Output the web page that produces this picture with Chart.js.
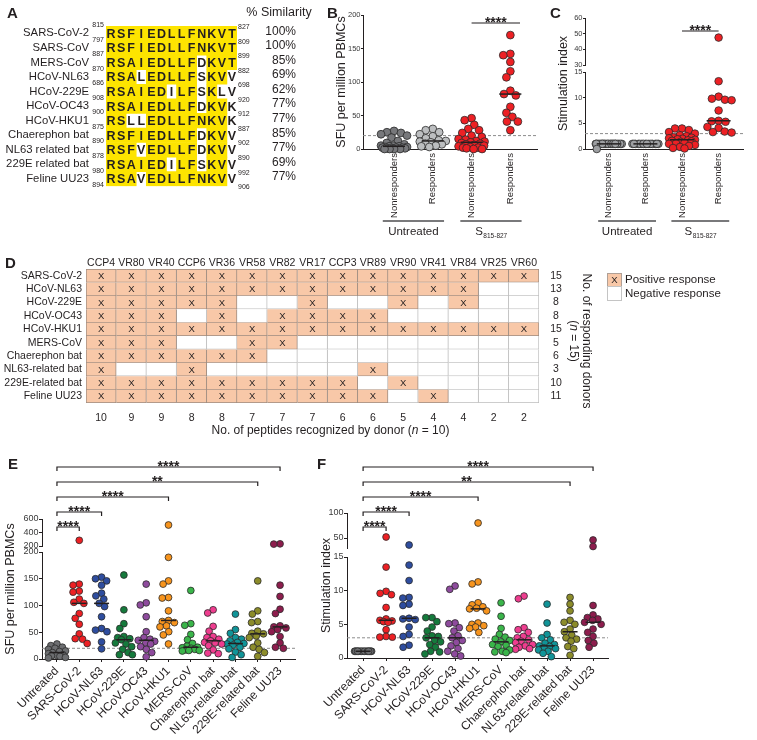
<!DOCTYPE html>
<html>
<head>
<meta charset="utf-8">
<script src="https://cdn.jsdelivr.net/npm/chart.js@4.4.1/dist/chart.umd.min.js"></script>
<style>
  html, body { margin: 0; padding: 0; background: #fff; }
  body { position: relative; width: 757px; height: 740px; overflow: hidden; }
  canvas { position: absolute; }
  .tag { position: absolute; font: bold 15px "Liberation Sans", Arial, sans-serif; color: #231f20; line-height: 1; }
</style>
</head>
<body>
<canvas id="chartA" width="330" height="210" style="left:0;top:0"></canvas>
<canvas id="chartB" width="250" height="245" style="left:300px;top:0"></canvas>
<canvas id="chartC" width="212" height="245" style="left:545px;top:0"></canvas>
<canvas id="chartD" width="757" height="195" style="left:0;top:250px"></canvas>
<canvas id="chartE" width="310" height="285" style="left:0;top:455px"></canvas>
<canvas id="chartF" width="310" height="285" style="left:310px;top:455px"></canvas>
<div class="tag" style="left:7px;top:5px">A</div>
<div class="tag" style="left:327px;top:5px">B</div>
<div class="tag" style="left:550px;top:5px">C</div>
<div class="tag" style="left:5px;top:255px">D</div>
<div class="tag" style="left:8px;top:456px">E</div>
<div class="tag" style="left:317px;top:456px">F</div>
<script>
const FONT = '"Liberation Sans", Arial, sans-serif'
const INK = '#231f20'
Chart.defaults.font.family = FONT
Chart.defaults.color = INK

// --- A: alignment ---
const aNames = ['SARS-CoV-2', 'SARS-CoV', 'MERS-CoV', 'HCoV-NL63', 'HCoV-229E', 'HCoV-OC43', 'HCoV-HKU1', 'Chaerephon bat', 'NL63 related bat', '229E related bat', 'Feline UU23']
const aSeqs = ['RSFIEDLLFNKVT', 'RSFIEDLLFNKVT', 'RSAIEDLLFDKVT', 'RSALEDLLFSKVV', 'RSAIEDILFSKLV', 'RSAIEDLLFDKVK', 'RSLLEDLLFNKVK', 'RSFIEDLLFDKVV', 'RSFVEDLLFDKVV', 'RSAIEDILFSKVV', 'RSAVEDLLFNKVV']
const aShaded = ['+++++++++++++', '+++++++++++++', '+++++++++-+++', '+++-+++++-++-', '++++++-++-+--', '+++++++++-++-', '++--++++++++-', '+++++++++-++-', '+++-+++++-++-', '++++++-++-++-', '+++-++++++++-']
const aStart = [815, 797, 887, 870, 686, 908, 900, 875, 890, 878, 980, 894]
const aEnd = [827, 809, 899, 882, 698, 920, 912, 887, 902, 890, 992, 906]
const aSimilarity = [100, 100, 85, 69, 62, 77, 77, 85, 77, 69, 77]

// --- B / C ---
const bcLabels = ['Nonresponders', 'Responders', 'Nonresponders', 'Responders']
const bTicks = [0, 50, 100, 150, 200]
const bUntreatedNon = [27, 25, 24, 22, 20, 17, 12, 9, 7, 5, 5, 4, 4, 3, 3, 2, 2, 2, 1, 1, 1, 0, 0, 0, 0]
const bUntreatedResp = [30, 28, 25, 22, 19, 16, 13, 12, 11, 10, 8, 7, 5, 4, 3]
const bS815Non = [46, 43, 36, 30, 28, 24, 20, 18, 15, 14, 12, 11, 10, 9, 8, 7, 6, 5, 4, 3, 2, 2, 1, 0, 0]
const bS815Resp = [170, 142, 140, 130, 116, 107, 87, 82, 80, 63, 54, 48, 41, 41, 28]
const cLowTicks = [0, 5, 10, 15]
const cTopTicks = [30, 40, 50, 60]
const cUntreatedNon = [0, 1, 1, 1, 1, 1, 1, 1, 1, 1, 1, 1, 1, 1, 1, 1, 1, 1, 1, 1, 1, 1, 1, 1, 1]
const cUntreatedResp = [1, 1, 1, 1, 1, 1, 1, 1, 1, 1, 1, 1, 1, 1, 1]
const cS815Non = [4.0, 4.0, 3.7, 3.3, 3.0, 2.7, 2.5, 2.3, 2.2, 2.1, 2.0, 1.9, 1.8, 1.7, 1.6, 1.5, 1.4, 1.2, 1.1, 1.0, 0.8, 0.6, 0.4, 0.2, 0.1]
const cS815Resp = [47.5, 13.2, 10.2, 9.8, 9.6, 9.5, 7.5, 5.5, 5.4, 5.3, 4.3, 4.1, 3.4, 3.3, 3.2]

// --- D ---
const dDonors = ['CCP4', 'VR80', 'VR40', 'CCP6', 'VR36', 'VR58', 'VR82', 'VR17', 'CCP3', 'VR89', 'VR90', 'VR41', 'VR84', 'VR25', 'VR60']
const dRows = ['SARS-CoV-2', 'HCoV-NL63', 'HCoV-229E', 'HCoV-OC43', 'HCoV-HKU1', 'MERS-CoV', 'Chaerephon bat', 'NL63-related bat', '229E-related bat', 'Feline UU23']
const dHits = [
  'xxxxxxxxxxxxxxx',
  'xxxxxxxxxxxxx..',
  'xxxxx..x..x.x..',
  'xxx.x.xxxx.....',
  'xxxxxxxxxxxxxxx',
  'xxx..xx........',
  'xxxxxx.........',
  'x..x.....x.....',
  'xxxxxxxxx.x....',
  'xxxxxxxxxx.x...'
]

// --- E / F ---
const efLabels = ['Untreated', 'SARS-CoV-2', 'HCoV-NL63', 'HCoV-229E', 'HCoV-OC43', 'HCoV-HKU1', 'MERS-CoV', 'Chaerephon bat', 'NL63-related bat', '229E-related bat', 'Feline UU23']
const efColors = ['#6d6e71', '#ed2024', '#2e4d9f', '#157a3c', '#8e4b9d', '#f7941d', '#3ab54a', '#ee3d8f', '#109498', '#8c8c2a', '#8d1d4d']
const eLowTicks = [0, 50, 100, 150, 200]
const eTopTicks = [200, 400, 600]
const sfuUntreated = [28, 25, 22, 20, 18, 15, 14, 12, 10, 8, 7, 6, 5, 3, 2]
const sfuSars2 = [284, 140, 138, 127, 125, 112, 106, 104, 85, 76, 65, 47, 38, 37, 29]
const sfuNl63 = [153, 150, 146, 138, 123, 118, 112, 104, 98, 79, 57, 54, 51, 32, 19]
const sfu229e = [157, 92, 66, 57, 42, 40, 38, 36, 30, 28, 23, 18, 12, 8, 8]
const sfuOc43 = [140, 105, 101, 79, 51, 40, 37, 35, 33, 30, 28, 23, 18, 12, 4]
const sfuHku1 = [511, 190, 146, 140, 115, 114, 90, 72, 70, 68, 62, 60, 51, 45, 28]
const sfuMers = [128, 66, 63, 46, 36, 29, 24, 22, 21, 20, 18, 17, 16, 16, 15]
const sfuChaerephon = [92, 86, 61, 52, 42, 40, 37, 34, 31, 30, 28, 25, 17, 11, 10]
const sfuNl63Bat = [84, 55, 48, 40, 37, 34, 31, 29, 28, 26, 22, 19, 13, 8, 3]
const sfu229eBat = [146, 90, 84, 70, 68, 52, 48, 47, 43, 40, 30, 22, 18, 12, 5]
const sfuFeline = [232, 228, 138, 117, 93, 85, 62, 60, 58, 55, 51, 42, 30, 22, 20]
const fLowTicks = [0, 5, 10, 15]
const fTopTicks = [50, 100]
const siUntreated = [1, 1, 1, 1, 1, 1, 1, 1, 1, 1, 1, 1, 1, 1, 1]
const siSars2 = [52, 13.5, 9.9, 9.6, 9.4, 7.5, 5.8, 5.6, 5.5, 5.4, 5.3, 4.2, 3.2, 3.1, 3.1]
const siNl63 = [36, 13.8, 11.5, 9.0, 8.9, 8.0, 7.8, 5.9, 5.8, 5.7, 4.6, 3.5, 3.2, 1.9, 1.6]
const si229e = [6.0, 6.0, 5.4, 4.6, 4.0, 3.3, 3.2, 3.0, 2.6, 2.4, 2.0, 1.6, 1.0, 0.9, 0.6]
const siOc43 = [10.7, 10.2, 5.2, 5.1, 4.5, 4.0, 3.3, 3.0, 2.6, 2.3, 1.8, 1.4, 1.0, 0.6, 0.3]
const siHku1 = [80, 11.3, 11.0, 8.2, 7.9, 7.6, 7.4, 7.3, 7.0, 5.2, 5.0, 4.8, 4.6, 4.4, 3.8]
const siMers = [8.2, 6.2, 4.4, 3.5, 3.1, 2.8, 2.6, 2.4, 2.0, 1.9, 1.7, 1.2, 1.0, 0.9, 0.8]
const siChaerephon = [9.2, 8.8, 4.5, 4.2, 3.8, 3.2, 3.0, 2.7, 2.5, 2.3, 2.0, 1.8, 1.6, 1.4, 1.3]
const siNl63Bat = [8.0, 5.2, 3.5, 3.0, 2.7, 2.2, 2.0, 1.8, 1.7, 1.5, 1.4, 1.2, 1.0, 0.7, 0.2]
const si229eBat = [9.0, 8.0, 7.0, 5.6, 5.3, 5.0, 4.3, 3.9, 3.4, 3.0, 2.8, 2.5, 1.7, 1.4, 0.4]
const siFeline = [46, 33, 7.8, 6.4, 6.0, 5.8, 5.6, 5.3, 5.0, 4.3, 3.8, 3.2, 2.6, 2.2, 1.6]

const base = { responsive: false, animation: false, events: [], devicePixelRatio: 1 }
const noPlugins = { legend: { display: false }, tooltip: { enabled: false } }

const median = (vals) => {
  const s = [...vals].sort((a, b) => a - b)
  const m = Math.floor(s.length / 2)
  return s.length % 2 ? s[m] : (s[m - 1] + s[m]) / 2
}

const mixedText = (ctx, parts, x, y, size) => {
  const fonts = parts.map(p => `${p.i ? 'italic ' : ''}${size}px ${FONT}`)
  const widths = parts.map((p, k) => { ctx.font = fonts[k]; return ctx.measureText(p.t).width })
  let cx = x - widths.reduce((a, b) => a + b, 0) / 2
  ctx.textAlign = 'left'
  parts.forEach((p, k) => { ctx.font = fonts[k]; ctx.fillText(p.t, cx, y); cx += widths[k] })
}

// panel A
new Chart(document.getElementById('chartA'), {
  type: 'bar',
  data: {
    labels: aNames,
    datasets: [...aSeqs[0]].map((_, c) => ({
      data: aShaded.map(m => (m[c] === '+' ? [c - 0.5, c + 0.5] : null)),
      backgroundColor: '#fde400',
      borderWidth: 0,
      barPercentage: 1,
      categoryPercentage: 1,
      grouped: false
    }))
  },
  options: {
    ...base,
    indexAxis: 'y',
    layout: { padding: { top: 26, bottom: 13, right: 93, left: 0 } },
    plugins: noPlugins,
    scales: {
      x: { type: 'linear', min: -0.5, max: 12.5, display: false },
      y: {
        grid: { display: false, drawTicks: false },
        border: { display: false },
        ticks: { font: { size: 11.3 }, color: INK, padding: 17, autoSkip: false },
        afterFit: s => { s.width = 106 }
      }
    }
  },
  plugins: [{
    id: 'alignText',
    afterDatasetsDraw(chart) {
      const { ctx, chartArea, scales: { x, y } } = chart
      ctx.save()
      ctx.fillStyle = INK
      ctx.font = `bold 12.5px ${FONT}`
      ctx.textAlign = 'center'
      ctx.textBaseline = 'middle'
      aSeqs.forEach((s, r) => [...s].forEach((ch, c) => ctx.fillText(ch, x.getPixelForValue(c), y.getPixelForValue(r) + 1)))
      ctx.font = `7px ${FONT}`
      ctx.textAlign = 'right'
      aStart.forEach((n, i) => ctx.fillText(String(n), chartArea.left - 2, y.getPixelForValue(i - 0.5) - 1))
      ctx.textAlign = 'left'
      aEnd.forEach((n, i) => ctx.fillText(String(n), chartArea.right + 1, y.getPixelForValue(i - 0.5) + 1))
      ctx.font = `12px ${FONT}`
      ctx.textAlign = 'right'
      aSimilarity.forEach((p, r) => ctx.fillText(p + '%', 296, y.getPixelForValue(r) - 2))
      ctx.textAlign = 'center'
      ctx.font = `12.5px ${FONT}`
      ctx.fillText('% Similarity', 279, 13)
      ctx.restore()
    }
  }]
})

// beeswarm placement, done in pixels on the chart's own scales
const placeSwarm = (chart, sets, r, maxHalf) => {
  const xs = chart.scales.x
  const unit = xs.getPixelForValue(1) - xs.getPixelForValue(0)
  const gap = r * 1.85
  sets.forEach(({ ds, cat, values, axis }) => {
    const ys = chart.scales[axis]
    const placed = []
    ;[...values].sort((a, b) => b - a).forEach(v => {
      const py = ys.getPixelForValue(v)
      const near = placed.filter(p => Math.abs(p.y - py) < gap)
      const blocked = near.map(p => {
        const w = Math.sqrt(gap * gap - (p.y - py) ** 2)
        return [p.x - w, p.x + w]
      })
      const hit = c => blocked.some(([a, b]) => c > a + 0.01 && c < b - 0.01)
      const free = [0, ...blocked.flat()].filter(c => !hit(c)).sort((a, b) => Math.abs(a) - Math.abs(b))
      let px = free[0]
      if (px === undefined || Math.abs(px) > maxHalf) {
        let best = 0
        let score = -1
        for (let c = -maxHalf; c <= maxHalf; c += 0.5) {
          const d = Math.min(...near.map(p => Math.hypot(p.x - c, p.y - py)))
          if (d > score) { score = d; best = c }
        }
        px = best
      }
      placed.push({ x: px, y: py })
      ds.data.push({ x: cat + px / unit, y: v })
    })
  })
}

const swarmChart = (id, o) => {
  const broken = Boolean(o.top)
  const medians = {
    data: o.groups.map(g => ({ x: g.cat, y: median(g.values) })),
    yAxisID: 'y',
    pointStyle: 'line',
    pointRadius: o.medHalf,
    pointBorderColor: INK,
    pointBorderWidth: 1.5
  }
  const pointSets = []
  const sets = []
  o.groups.forEach(g => {
    ;(broken ? ['y', 'yTop'] : ['y']).forEach(axis => {
      const values = g.values.filter(v => (axis === 'y' ? !broken || v <= o.low.max : v > o.low.max))
      if (!values.length) return
      const ds = { data: [], yAxisID: axis, pointRadius: o.radius, pointBackgroundColor: g.color, pointBorderColor: '#2b2b2b', pointBorderWidth: 0.8 }
      sets.push(ds)
      pointSets.push({ ds, cat: g.cat, values, axis })
    })
  })
  const threshold = {
    data: [{ x: o.xMin, y: o.threshold }, { x: o.xMax, y: o.threshold }],
    yAxisID: 'y', showLine: true, borderColor: '#8c8c8c', borderWidth: 1, borderDash: [3, 2], pointRadius: 0
  }
  const yAxis = (range, extra) => ({
    type: 'linear',
    position: 'left',
    min: range.min,
    max: range.max,
    grid: { display: true, drawOnChartArea: false, drawTicks: true, tickLength: o.yTick, color: INK },
    border: { display: true, color: INK, width: 1 },
    ticks: { font: { size: o.yFont }, color: '#3a3a3a', padding: 0.5, autoSkip: false },
    afterBuildTicks: s => { s.ticks = range.ticks.map(v => ({ value: v })) },
    afterFit: s => { s.width = o.yWidth },
    ...extra
  })
  const scales = {
    x: {
      type: 'linear', min: o.xMin, max: o.xMax,
      afterBuildTicks: s => { s.ticks = o.labels.map((_, i) => ({ value: i })) },
      grid: { display: true, drawOnChartArea: false, drawTicks: o.xTicks, tickLength: 3, color: INK },
      border: { color: INK, width: 1 },
      ticks: { autoSkip: false, maxRotation: o.rot, minRotation: o.rot, font: { size: o.xFont }, color: INK, padding: o.xPad, callback: v => o.labels[v] },
      afterFit: s => { s.height = o.xHeight }
    },
    y: yAxis(o.low, broken ? { stack: 'v', stackWeight: o.low.weight } : {})
  }
  if (broken) {
    scales.yGap = {
      type: 'linear', position: 'left', stack: 'v', stackWeight: o.gap, min: 0, max: 1,
      grid: { display: false }, border: { display: false }, ticks: { display: false },
      afterFit: s => { s.width = o.yWidth }
    }
    scales.yTop = yAxis(o.top, { stack: 'v', stackWeight: o.top.weight })
  }
  const extras = {
    id: 'extras',
    afterDraw(chart) {
      const { ctx, chartArea, scales: { x } } = chart
      ctx.save()
      ctx.fillStyle = INK
      ctx.strokeStyle = INK
      ctx.save()
      ctx.font = `${o.titleFont}px ${FONT}`
      ctx.textAlign = 'center'
      ctx.textBaseline = 'middle'
      ctx.translate(o.titleX, (chartArea.top + chartArea.bottom) / 2)
      ctx.rotate(-Math.PI / 2)
      ctx.fillText(o.title, 0, 0)
      ctx.restore()
      ctx.lineWidth = 1.2
      o.brackets.forEach(b => {
        const a = x.getPixelForValue(b.from)
        const e = x.getPixelForValue(b.to)
        ctx.beginPath()
        ctx.moveTo(a, b.y + b.tick)
        ctx.lineTo(a, b.y)
        ctx.lineTo(e, b.y)
        ctx.lineTo(e, b.y + b.tick)
        ctx.stroke()
        ctx.font = `bold 14px ${FONT}`
        ctx.textAlign = 'center'
        ctx.textBaseline = 'alphabetic'
        ctx.fillText(b.stars, (a + e) / 2, b.y + 4)
      })
      ;(o.groupsBelow || []).forEach(g => {
        const a = x.getPixelForValue(g.from - 0.29)
        const e = x.getPixelForValue(g.to + 0.29)
        ctx.strokeStyle = '#4d4d4f'
        ctx.lineWidth = 1.5
        ctx.beginPath()
        ctx.moveTo(a, o.groupLineY)
        ctx.lineTo(e, o.groupLineY)
        ctx.stroke()
        const cx = (a + e) / 2
        ctx.textBaseline = 'middle'
        ctx.font = `11.5px ${FONT}`
        if (g.sub) {
          const w1 = ctx.measureText(g.text).width
          ctx.font = `6.5px ${FONT}`
          const w2 = ctx.measureText(g.sub).width
          const left = cx - (w1 + w2) / 2
          ctx.textAlign = 'left'
          ctx.fillText(g.sub, left + w1 + 0.5, o.groupTextY + 4)
          ctx.font = `11.5px ${FONT}`
          ctx.fillText(g.text, left, o.groupTextY)
        } else {
          ctx.textAlign = 'center'
          ctx.fillText(g.text, cx, o.groupTextY)
        }
      })
      ctx.restore()
    }
  }
  const chart = new Chart(document.getElementById(id), {
    type: 'scatter',
    data: { datasets: [medians, ...sets, threshold] },
    options: {
      ...base,
      clip: false,
      layout: { padding: { top: o.padTop, right: o.padRight, left: 0, bottom: 0 } },
      plugins: noPlugins,
      scales
    },
    plugins: [extras]
  })
  placeSwarm(chart, pointSets, o.radius, o.maxHalf)
  chart.update('none')
  return chart
}

swarmChart('chartB', {
  labels: bcLabels,
  groups: [
    { cat: 0, values: bUntreatedNon, color: '#77787b' },
    { cat: 1, values: bUntreatedResp, color: '#bcbec0' },
    { cat: 2, values: bS815Non, color: '#ed2024' },
    { cat: 3, values: bS815Resp, color: '#ed2024' }
  ],
  xMin: -0.8, xMax: 3.7, xHeight: 96, rot: 90, xFont: 9.5, xPad: 4, xTicks: false,
  yWidth: 63, yFont: 7.5, yTick: 2, low: { min: 0, max: 200, ticks: bTicks },
  padTop: 15, padRight: 10, threshold: 20, radius: 3.9, maxHalf: 13, medHalf: 11,
  title: 'SFU per million PBMCs', titleX: 42, titleFont: 12.5,
  brackets: [{ from: 2, to: 3.25, y: 23, tick: 0, stars: '****' }],
  groupsBelow: [{ from: 0, to: 1, text: 'Untreated' }, { from: 2, to: 3, text: 'S', sub: '815-827' }],
  groupLineY: 221, groupTextY: 232
})

swarmChart('chartC', {
  labels: bcLabels,
  groups: [
    { cat: 0, values: cUntreatedNon, color: '#9d9fa2' },
    { cat: 1, values: cUntreatedResp, color: '#9d9fa2' },
    { cat: 2, values: cS815Non, color: '#ed2024' },
    { cat: 3, values: cS815Resp, color: '#ed2024' }
  ],
  xMin: -0.65, xMax: 3.68, xHeight: 96, rot: 90, xFont: 9.5, xPad: 4, xTicks: false,
  yWidth: 40, yFont: 7.5, yTick: 2,
  low: { min: 0, max: 15, ticks: cLowTicks, weight: 77 }, gap: 7,
  top: { min: 30, max: 60, ticks: cTopTicks, weight: 47 },
  padTop: 18, padRight: 6, threshold: 3, radius: 3.8, maxHalf: 13, medHalf: 12,
  title: 'Stimulation index', titleX: 19, titleFont: 12.5,
  brackets: [{ from: 2, to: 3, y: 31, tick: 0, stars: '****' }],
  groupsBelow: [{ from: 0, to: 1, text: 'Untreated' }, { from: 2, to: 3, text: 'S', sub: '815-827' }],
  groupLineY: 221, groupTextY: 232
})

const efBrackets = [
  { from: 0, to: 1, y: 72, tick: 4, stars: '****' },
  { from: 0, to: 2, y: 57, tick: 4, stars: '****' },
  { from: 0, to: 5, y: 42, tick: 4, stars: '****' },
  { from: 0, to: 9, y: 27, tick: 4, stars: '**' },
  { from: 0, to: 10, y: 12, tick: 4, stars: '****' }
]

swarmChart('chartE', {
  labels: efLabels,
  groups: [sfuUntreated, sfuSars2, sfuNl63, sfu229e, sfuOc43, sfuHku1, sfuMers, sfuChaerephon, sfuNl63Bat, sfu229eBat, sfuFeline]
    .map((values, i) => ({ cat: i, values, color: efColors[i] })),
  xMin: -0.67, xMax: 10.67, xHeight: 81, rot: 45, xFont: 12, xPad: 2, xTicks: true,
  yWidth: 42, yFont: 9, yTick: 3,
  low: { min: 0, max: 200, ticks: eLowTicks, weight: 107 }, gap: 6,
  top: { min: 200, max: 600, ticks: eTopTicks, weight: 27 },
  padTop: 64, padRight: 15, threshold: 20, radius: 3.4, maxHalf: 8.5, medHalf: 7.5,
  title: 'SFU per million PBMCs', titleX: 11, titleFont: 12.5,
  brackets: efBrackets
})

swarmChart('chartF', {
  labels: efLabels,
  groups: [siUntreated, siSars2, siNl63, si229e, siOc43, siHku1, siMers, siChaerephon, siNl63Bat, si229eBat, siFeline]
    .map((values, i) => ({ cat: i, values, color: efColors[i] })),
  xMin: -0.7, xMax: 10.65, xHeight: 82, rot: 45, xFont: 12, xPad: 2, xTicks: true,
  yWidth: 37, yFont: 9, yTick: 3,
  low: { min: 0, max: 15, ticks: fLowTicks, weight: 101 }, gap: 9,
  top: { min: 30, max: 100, ticks: fTopTicks, weight: 35 },
  padTop: 58, padRight: 12, threshold: 3, radius: 3.4, maxHalf: 8.5, medHalf: 7.5,
  title: 'Stimulation index', titleX: 17, titleFont: 12.5,
  brackets: efBrackets
})

// panel D
const PEACH = '#f8c8a8'
const dRowCounts = dHits.map(r => [...r].filter(h => h === 'x').length)
const dColCounts = dDonors.map((_, c) => dHits.filter(r => r[c] === 'x').length)
new Chart(document.getElementById('chartD'), {
  type: 'bar',
  data: {
    labels: dRows,
    datasets: dDonors.map((_, c) => ({
      data: dRows.map(() => [c - 0.5, c + 0.5]),
      backgroundColor: dHits.map(r => (r[c] === 'x' ? PEACH : '#ffffff')),
      borderColor: dHits.map(r => (r[c] === 'x' ? '#9c8b80' : '#bdbdbd')),
      borderWidth: dRows.map((_, r) => ({ top: r === 0 ? 1 : 0, left: c === 0 ? 1 : 0, right: 1, bottom: 1 })),
      borderSkipped: false,
      barPercentage: 1,
      categoryPercentage: 1,
      grouped: false
    }))
  },
  options: {
    ...base,
    indexAxis: 'y',
    layout: { padding: { top: 0, bottom: 0, left: 0, right: 218 } },
    plugins: noPlugins,
    scales: {
      x: {
        type: 'linear', position: 'top', min: -0.5, max: 14.5,
        grid: { display: false }, border: { display: false },
        ticks: { display: false },
        afterFit: s => { s.height = 19 }
      },
      x2: {
        type: 'linear', position: 'bottom', min: -0.5, max: 14.5,
        afterBuildTicks: s => { s.ticks = dDonors.map((_, i) => ({ value: i })) },
        grid: { display: false }, border: { display: false },
        ticks: { autoSkip: false, maxRotation: 0, font: { size: 10.5 }, color: INK, padding: 1, callback: v => String(dColCounts[v]) },
        afterFit: s => { s.height = 42 }
      },
      y: {
        grid: { display: false, drawTicks: false }, border: { display: false },
        ticks: { font: { size: 10.5 }, color: INK, padding: 4, autoSkip: false },
        afterFit: s => { s.width = 86 }
      }
    }
  },
  plugins: [{
    id: 'tableText',
    afterDatasetsDraw(chart) {
      const { ctx, chartArea, scales: { x, y } } = chart
      ctx.save()
      ctx.fillStyle = INK
      ctx.textAlign = 'center'
      ctx.textBaseline = 'middle'
      ctx.font = `10.5px ${FONT}`
      dDonors.forEach((d, c) => ctx.fillText(d, x.getPixelForValue(c), 13))
      ctx.font = `9.5px ${FONT}`
      dHits.forEach((row, r) => [...row].forEach((h, c) => {
        if (h === 'x') ctx.fillText('X', x.getPixelForValue(c), y.getPixelForValue(r) + 0.5)
      }))
      ctx.font = `10.5px ${FONT}`
      dRowCounts.forEach((n, r) => ctx.fillText(String(n), 556, y.getPixelForValue(r)))
      // right-hand axis title, reading downward
      ctx.save()
      ctx.translate(586, 91)
      ctx.rotate(Math.PI / 2)
      ctx.font = `12px ${FONT}`
      ctx.fillText('No. of responding donors', 0, 0)
      mixedText(ctx, [{ t: '(' }, { t: 'n', i: true }, { t: ' = 15)' }], 0, 13, 12)
      ctx.restore()
      // bottom title
      ctx.textBaseline = 'middle'
      mixedText(ctx, [{ t: 'No. of peptides recognized by donor (' }, { t: 'n', i: true }, { t: ' = 10)' }], (chartArea.left + chartArea.right) / 2 + 18, 181, 12)
      // legend
      ctx.lineWidth = 1
      ctx.fillStyle = PEACH
      ctx.strokeStyle = '#b0a096'
      ctx.fillRect(607, 23, 14, 13)
      ctx.strokeRect(607.5, 23.5, 14, 13)
      ctx.fillStyle = '#fff'
      ctx.strokeStyle = '#c4c4c4'
      ctx.fillRect(607, 37, 14, 13)
      ctx.strokeRect(607.5, 36.5, 14, 14)
      ctx.fillStyle = INK
      ctx.textAlign = 'center'
      ctx.font = `9.5px ${FONT}`
      ctx.fillText('X', 614.5, 30)
      ctx.textAlign = 'left'
      ctx.font = `11.5px ${FONT}`
      ctx.fillText('Positive response', 625, 29.5)
      ctx.fillText('Negative response', 625, 44)
      ctx.restore()
    }
  }]
})
</script>
</body>
</html>
